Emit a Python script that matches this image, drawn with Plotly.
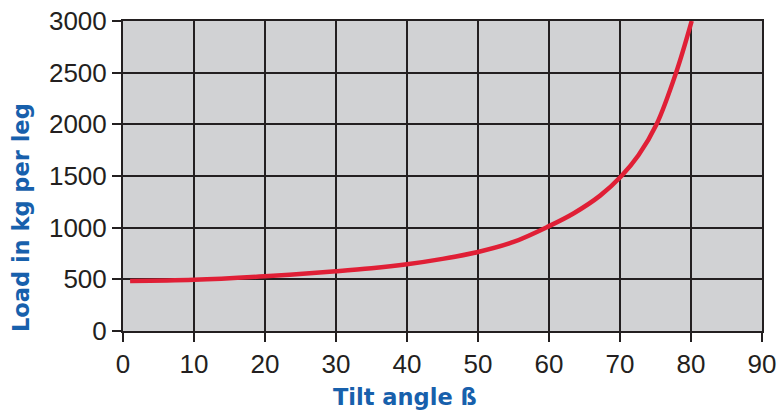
import plotly.graph_objects as go

tilt_angle = [1, 10, 20, 30, 35, 40, 45, 50, 55, 60, 63.5, 67.2, 70.2, 72.6, 75.15, 77.9, 80.1]
load_kg = [483, 495, 530, 578, 607, 646, 698, 765, 862, 1015, 1140, 1310, 1500, 1700, 2000, 2500, 3000]

x_ticks = [0, 10, 20, 30, 40, 50, 60, 70, 80, 90]
y_ticks = [0, 500, 1000, 1500, 2000, 2500, 3000]

x_title = "Tilt angle ß"
y_title = "Load in kg per leg"

grid_color = "#231f20"
blue = "#1760ac"
title_font = "DejaVu Sans, sans-serif"

fig = go.Figure()
fig.add_trace(go.Scatter(
    x=tilt_angle, y=load_kg, mode="lines",
    line=dict(color="#e01f36", width=4.5, shape="spline", smoothing=1),
    hoverinfo="skip", showlegend=False,
))

axis_common = dict(
    showgrid=True, gridcolor=grid_color, gridwidth=2,
    showline=True, linecolor=grid_color, linewidth=2, mirror=True,
    ticks="outside", ticklen=9, tickwidth=2, tickcolor=grid_color,
    zeroline=False, automargin=False,
)

fig.update_layout(
    width=778, height=415,
    margin=dict(l=123, r=16, t=21, b=84),
    paper_bgcolor="white",
    plot_bgcolor="#d1d2d4",
    font=dict(family="Liberation Sans, Arial, sans-serif", size=26, color="#231f20"),
    xaxis=dict(range=[0, 90], tickvals=x_ticks, ticktext=[str(v) for v in x_ticks], **axis_common),
    yaxis=dict(range=[0, 3000], tickvals=y_ticks, ticktext=[str(v) for v in y_ticks], **axis_common),
    annotations=[
        dict(text="<b>" + x_title + "</b>", xref="paper", yref="paper", x=0.442, y=-0.213,
             xanchor="center", yanchor="middle", showarrow=False,
             font=dict(family=title_font, size=22.5, color=blue)),
        dict(text="<b>" + y_title + "</b>", xref="paper", yref="paper", x=-0.1596, y=0.3645,
             xanchor="center", yanchor="middle", showarrow=False, textangle=-90,
             font=dict(family=title_font, size=22.5, color=blue)),
    ],
)

fig.write_html(
    "out.html",
    config={"displayModeBar": False},
    post_script="document.body.style.margin='0';document.body.style.overflow='hidden';",
)
